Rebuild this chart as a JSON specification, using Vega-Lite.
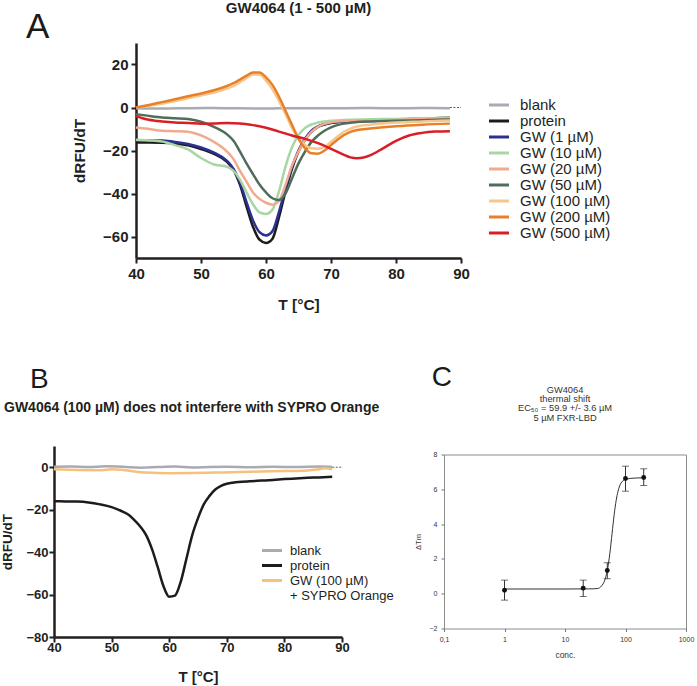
{
  "$schema": "https://vega.github.io/schema/vega-lite/v6.json",
  "background": "white",
  "padding": {"left": 0, "top": 1, "right": 5, "bottom": 2},
  "config": {
    "font": "Liberation Sans",
    "view": {"stroke": null},
    "axis": {"grid": false, "labelFlush": false, "labelOverlap": false},
    "legend": {"padding": 0}
  },
  "bounds": "flush",
  "spacing": 403,
  "resolve": {"scale": {"color": "independent"}, "legend": {"color": "independent"}},
  "datasets": {
    "A": [
      {"s":"blank","T":40,"v":-0.3},{"s":"blank","T":44,"v":-0.5},{"s":"blank","T":48,"v":-0.3},{"s":"blank","T":52,"v":-0.2},{"s":"blank","T":56,"v":-0.4},{"s":"blank","T":60,"v":-0.5},{"s":"blank","T":64,"v":-0.3},{"s":"blank","T":68,"v":-0.4},{"s":"blank","T":72,"v":-0.3},{"s":"blank","T":76,"v":-0.2},{"s":"blank","T":80,"v":-0.4},{"s":"blank","T":84,"v":-0.2},{"s":"blank","T":88.3,"v":-0.3},
      {"s":"protein","T":40,"v":-16.3},{"s":"protein","T":42,"v":-16.3},{"s":"protein","T":44,"v":-16.4},{"s":"protein","T":46,"v":-16.8},{"s":"protein","T":48,"v":-17.6},{"s":"protein","T":50,"v":-19.3},{"s":"protein","T":52,"v":-21.6},{"s":"protein","T":54,"v":-25.3},{"s":"protein","T":55,"v":-29},{"s":"protein","T":56,"v":-36},{"s":"protein","T":57,"v":-46},{"s":"protein","T":58,"v":-55.5},{"s":"protein","T":59,"v":-61.5},{"s":"protein","T":60,"v":-63},{"s":"protein","T":61,"v":-61},{"s":"protein","T":62,"v":-51},{"s":"protein","T":63,"v":-39},{"s":"protein","T":64,"v":-28.5},{"s":"protein","T":65,"v":-20.5},{"s":"protein","T":66,"v":-15},{"s":"protein","T":67,"v":-11.3},{"s":"protein","T":68,"v":-9},{"s":"protein","T":69,"v":-7.9},{"s":"protein","T":70,"v":-7.2},{"s":"protein","T":72,"v":-6.6},{"s":"protein","T":74,"v":-6.3},{"s":"protein","T":76,"v":-6.1},{"s":"protein","T":78,"v":-5.9},{"s":"protein","T":80,"v":-5.7},{"s":"protein","T":82,"v":-5.4},{"s":"protein","T":84,"v":-5.2},{"s":"protein","T":86,"v":-5},{"s":"protein","T":88.3,"v":-4.8},
      {"s":"GW (1 µM)","T":40,"v":-15.3},{"s":"GW (1 µM)","T":42,"v":-15.3},{"s":"GW (1 µM)","T":44,"v":-15.4},{"s":"GW (1 µM)","T":46,"v":-16},{"s":"GW (1 µM)","T":48,"v":-17},{"s":"GW (1 µM)","T":50,"v":-18.6},{"s":"GW (1 µM)","T":52,"v":-21},{"s":"GW (1 µM)","T":54,"v":-24.8},{"s":"GW (1 µM)","T":55,"v":-28.5},{"s":"GW (1 µM)","T":56,"v":-35},{"s":"GW (1 µM)","T":57,"v":-44},{"s":"GW (1 µM)","T":58,"v":-52.5},{"s":"GW (1 µM)","T":59,"v":-58},{"s":"GW (1 µM)","T":60,"v":-59.5},{"s":"GW (1 µM)","T":61,"v":-57.5},{"s":"GW (1 µM)","T":62,"v":-48.5},{"s":"GW (1 µM)","T":63,"v":-37.5},{"s":"GW (1 µM)","T":64,"v":-27.5},{"s":"GW (1 µM)","T":65,"v":-20},{"s":"GW (1 µM)","T":66,"v":-14.5},{"s":"GW (1 µM)","T":67,"v":-10.8},{"s":"GW (1 µM)","T":68,"v":-8.8},{"s":"GW (1 µM)","T":69,"v":-7.7},{"s":"GW (1 µM)","T":70,"v":-7.1},{"s":"GW (1 µM)","T":72,"v":-6.6},{"s":"GW (1 µM)","T":76,"v":-6.3},{"s":"GW (1 µM)","T":80,"v":-6},{"s":"GW (1 µM)","T":84,"v":-5.6},{"s":"GW (1 µM)","T":88.3,"v":-5.3},
      {"s":"GW (10 µM)","T":40,"v":-15},{"s":"GW (10 µM)","T":42,"v":-15.3},{"s":"GW (10 µM)","T":44,"v":-15.8},{"s":"GW (10 µM)","T":46,"v":-17.5},{"s":"GW (10 µM)","T":48,"v":-19.5},{"s":"GW (10 µM)","T":50,"v":-23.5},{"s":"GW (10 µM)","T":52,"v":-26.5},{"s":"GW (10 µM)","T":54,"v":-27.6},{"s":"GW (10 µM)","T":55,"v":-29.5},{"s":"GW (10 µM)","T":56,"v":-33.5},{"s":"GW (10 µM)","T":57,"v":-39.5},{"s":"GW (10 µM)","T":58,"v":-45},{"s":"GW (10 µM)","T":59,"v":-48.8},{"s":"GW (10 µM)","T":60,"v":-49.5},{"s":"GW (10 µM)","T":61,"v":-47.5},{"s":"GW (10 µM)","T":62,"v":-39},{"s":"GW (10 µM)","T":63,"v":-27.5},{"s":"GW (10 µM)","T":64,"v":-18.5},{"s":"GW (10 µM)","T":65,"v":-12.8},{"s":"GW (10 µM)","T":66,"v":-9.5},{"s":"GW (10 µM)","T":67,"v":-7.9},{"s":"GW (10 µM)","T":68,"v":-7},{"s":"GW (10 µM)","T":70,"v":-6.2},{"s":"GW (10 µM)","T":72,"v":-5.8},{"s":"GW (10 µM)","T":76,"v":-5.5},{"s":"GW (10 µM)","T":80,"v":-5.3},{"s":"GW (10 µM)","T":84,"v":-5},{"s":"GW (10 µM)","T":88.3,"v":-4.8},
      {"s":"GW (20 µM)","T":40,"v":-9.3},{"s":"GW (20 µM)","T":42,"v":-10},{"s":"GW (20 µM)","T":44,"v":-10.8},{"s":"GW (20 µM)","T":46,"v":-11},{"s":"GW (20 µM)","T":48,"v":-11.3},{"s":"GW (20 µM)","T":50,"v":-13},{"s":"GW (20 µM)","T":52,"v":-16},{"s":"GW (20 µM)","T":54,"v":-20.5},{"s":"GW (20 µM)","T":55,"v":-24},{"s":"GW (20 µM)","T":56,"v":-29.5},{"s":"GW (20 µM)","T":57,"v":-34.5},{"s":"GW (20 µM)","T":58,"v":-39.5},{"s":"GW (20 µM)","T":59,"v":-42.5},{"s":"GW (20 µM)","T":60,"v":-44.3},{"s":"GW (20 µM)","T":61,"v":-45.2},{"s":"GW (20 µM)","T":62,"v":-43.5},{"s":"GW (20 µM)","T":63,"v":-36},{"s":"GW (20 µM)","T":64,"v":-27},{"s":"GW (20 µM)","T":65,"v":-20.5},{"s":"GW (20 µM)","T":66,"v":-15},{"s":"GW (20 µM)","T":67,"v":-11.3},{"s":"GW (20 µM)","T":68,"v":-9},{"s":"GW (20 µM)","T":69,"v":-7.6},{"s":"GW (20 µM)","T":70,"v":-6.9},{"s":"GW (20 µM)","T":72,"v":-6.3},{"s":"GW (20 µM)","T":76,"v":-6},{"s":"GW (20 µM)","T":80,"v":-5.8},{"s":"GW (20 µM)","T":84,"v":-5.4},{"s":"GW (20 µM)","T":88.3,"v":-5},
      {"s":"GW (50 µM)","T":40,"v":-3.1},{"s":"GW (50 µM)","T":42,"v":-3.9},{"s":"GW (50 µM)","T":44,"v":-4.6},{"s":"GW (50 µM)","T":46,"v":-5},{"s":"GW (50 µM)","T":48,"v":-5.4},{"s":"GW (50 µM)","T":50,"v":-6.6},{"s":"GW (50 µM)","T":52,"v":-9},{"s":"GW (50 µM)","T":54,"v":-12.5},{"s":"GW (50 µM)","T":55,"v":-15.5},{"s":"GW (50 µM)","T":56,"v":-20.5},{"s":"GW (50 µM)","T":57,"v":-26},{"s":"GW (50 µM)","T":58,"v":-31},{"s":"GW (50 µM)","T":59,"v":-35.8},{"s":"GW (50 µM)","T":60,"v":-39.5},{"s":"GW (50 µM)","T":61,"v":-42.2},{"s":"GW (50 µM)","T":62,"v":-43},{"s":"GW (50 µM)","T":63,"v":-40},{"s":"GW (50 µM)","T":64,"v":-33},{"s":"GW (50 µM)","T":65,"v":-26},{"s":"GW (50 µM)","T":66,"v":-20.5},{"s":"GW (50 µM)","T":67,"v":-16},{"s":"GW (50 µM)","T":68,"v":-13},{"s":"GW (50 µM)","T":69,"v":-10.8},{"s":"GW (50 µM)","T":70,"v":-9.2},{"s":"GW (50 µM)","T":72,"v":-7.5},{"s":"GW (50 µM)","T":74,"v":-6.8},{"s":"GW (50 µM)","T":76,"v":-6.5},{"s":"GW (50 µM)","T":80,"v":-6.2},{"s":"GW (50 µM)","T":84,"v":-5.9},{"s":"GW (50 µM)","T":88.3,"v":-5.6},
      {"s":"GW (100 µM)","T":40,"v":0},{"s":"GW (100 µM)","T":42,"v":0.8},{"s":"GW (100 µM)","T":44,"v":1.8},{"s":"GW (100 µM)","T":46,"v":3},{"s":"GW (100 µM)","T":48,"v":4.3},{"s":"GW (100 µM)","T":50,"v":5.6},{"s":"GW (100 µM)","T":52,"v":7},{"s":"GW (100 µM)","T":54,"v":8.8},{"s":"GW (100 µM)","T":55,"v":10},{"s":"GW (100 µM)","T":56,"v":11.8},{"s":"GW (100 µM)","T":57,"v":13.7},{"s":"GW (100 µM)","T":58,"v":15.3},{"s":"GW (100 µM)","T":59,"v":15.2},{"s":"GW (100 µM)","T":60,"v":12.5},{"s":"GW (100 µM)","T":61,"v":8.5},{"s":"GW (100 µM)","T":62,"v":3},{"s":"GW (100 µM)","T":63,"v":-3},{"s":"GW (100 µM)","T":64,"v":-9.5},{"s":"GW (100 µM)","T":65,"v":-14.5},{"s":"GW (100 µM)","T":66,"v":-17.5},{"s":"GW (100 µM)","T":67,"v":-19},{"s":"GW (100 µM)","T":68,"v":-19.2},{"s":"GW (100 µM)","T":69,"v":-18.3},{"s":"GW (100 µM)","T":70,"v":-16},{"s":"GW (100 µM)","T":71,"v":-13.5},{"s":"GW (100 µM)","T":72,"v":-11.3},{"s":"GW (100 µM)","T":73,"v":-9.8},{"s":"GW (100 µM)","T":74,"v":-8.8},{"s":"GW (100 µM)","T":76,"v":-8},{"s":"GW (100 µM)","T":78,"v":-7.4},{"s":"GW (100 µM)","T":80,"v":-7},{"s":"GW (100 µM)","T":84,"v":-6.5},{"s":"GW (100 µM)","T":88.3,"v":-6},
      {"s":"GW (200 µM)","T":40,"v":0},{"s":"GW (200 µM)","T":42,"v":1.2},{"s":"GW (200 µM)","T":44,"v":2.5},{"s":"GW (200 µM)","T":46,"v":3.8},{"s":"GW (200 µM)","T":48,"v":5.2},{"s":"GW (200 µM)","T":50,"v":6.5},{"s":"GW (200 µM)","T":52,"v":8},{"s":"GW (200 µM)","T":54,"v":10},{"s":"GW (200 µM)","T":55,"v":11.3},{"s":"GW (200 µM)","T":56,"v":13},{"s":"GW (200 µM)","T":57,"v":14.8},{"s":"GW (200 µM)","T":58,"v":16.3},{"s":"GW (200 µM)","T":59,"v":16.3},{"s":"GW (200 µM)","T":60,"v":14},{"s":"GW (200 µM)","T":61,"v":10.5},{"s":"GW (200 µM)","T":62,"v":5},{"s":"GW (200 µM)","T":63,"v":-1.5},{"s":"GW (200 µM)","T":64,"v":-8},{"s":"GW (200 µM)","T":65,"v":-14.5},{"s":"GW (200 µM)","T":66,"v":-19},{"s":"GW (200 µM)","T":67,"v":-21.3},{"s":"GW (200 µM)","T":68,"v":-21.5},{"s":"GW (200 µM)","T":69,"v":-20},{"s":"GW (200 µM)","T":70,"v":-17.5},{"s":"GW (200 µM)","T":71,"v":-15},{"s":"GW (200 µM)","T":72,"v":-12.8},{"s":"GW (200 µM)","T":73,"v":-11.3},{"s":"GW (200 µM)","T":74,"v":-10.5},{"s":"GW (200 µM)","T":76,"v":-9.8},{"s":"GW (200 µM)","T":78,"v":-9.2},{"s":"GW (200 µM)","T":80,"v":-8.7},{"s":"GW (200 µM)","T":84,"v":-8},{"s":"GW (200 µM)","T":88.3,"v":-7.5},
      {"s":"GW (500 µM)","T":40,"v":-3.9},{"s":"GW (500 µM)","T":41,"v":-5},{"s":"GW (500 µM)","T":42,"v":-5.7},{"s":"GW (500 µM)","T":44,"v":-6.5},{"s":"GW (500 µM)","T":46,"v":-7},{"s":"GW (500 µM)","T":48,"v":-7.2},{"s":"GW (500 µM)","T":50,"v":-7.5},{"s":"GW (500 µM)","T":52,"v":-7.4},{"s":"GW (500 µM)","T":54,"v":-7.2},{"s":"GW (500 µM)","T":56,"v":-7.4},{"s":"GW (500 µM)","T":58,"v":-8.2},{"s":"GW (500 µM)","T":60,"v":-9.4},{"s":"GW (500 µM)","T":62,"v":-11.2},{"s":"GW (500 µM)","T":64,"v":-13},{"s":"GW (500 µM)","T":66,"v":-14.6},{"s":"GW (500 µM)","T":68,"v":-16.6},{"s":"GW (500 µM)","T":70,"v":-19.2},{"s":"GW (500 µM)","T":72,"v":-22},{"s":"GW (500 µM)","T":73,"v":-23.2},{"s":"GW (500 µM)","T":74,"v":-23.6},{"s":"GW (500 µM)","T":75,"v":-23.3},{"s":"GW (500 µM)","T":76,"v":-22.3},{"s":"GW (500 µM)","T":78,"v":-19},{"s":"GW (500 µM)","T":80,"v":-15.5},{"s":"GW (500 µM)","T":82,"v":-13},{"s":"GW (500 µM)","T":84,"v":-11.8},{"s":"GW (500 µM)","T":86,"v":-11.2},{"s":"GW (500 µM)","T":88.3,"v":-11}
    ],
    "B": [
      {"s":"blank","T":40,"v":0.2},{"s":"blank","T":43,"v":0.3},{"s":"blank","T":46,"v":0.1},{"s":"blank","T":49,"v":0.4},{"s":"blank","T":52,"v":0.2},{"s":"blank","T":55,"v":-0.2},{"s":"blank","T":58,"v":0.1},{"s":"blank","T":61,"v":0.3},{"s":"blank","T":64,"v":-0.1},{"s":"blank","T":67,"v":0.1},{"s":"blank","T":70,"v":0.2},{"s":"blank","T":74,"v":0},{"s":"blank","T":78,"v":0.2},{"s":"blank","T":82,"v":0.1},{"s":"blank","T":86,"v":0.3},{"s":"blank","T":88.3,"v":0.1},
      {"s":"protein","T":40,"v":-16},{"s":"protein","T":42,"v":-16.1},{"s":"protein","T":44,"v":-16.2},{"s":"protein","T":46,"v":-16.6},{"s":"protein","T":48,"v":-17.5},{"s":"protein","T":50,"v":-18.8},{"s":"protein","T":52,"v":-21},{"s":"protein","T":53,"v":-22.5},{"s":"protein","T":54,"v":-25},{"s":"protein","T":55,"v":-28},{"s":"protein","T":56,"v":-32},{"s":"protein","T":57,"v":-38.5},{"s":"protein","T":58,"v":-47},{"s":"protein","T":59,"v":-56},{"s":"protein","T":60,"v":-61},{"s":"protein","T":61,"v":-60.5},{"s":"protein","T":62,"v":-54},{"s":"protein","T":63,"v":-43},{"s":"protein","T":64,"v":-32},{"s":"protein","T":65,"v":-24},{"s":"protein","T":66,"v":-17.5},{"s":"protein","T":67,"v":-13.5},{"s":"protein","T":68,"v":-10.5},{"s":"protein","T":69,"v":-8.8},{"s":"protein","T":70,"v":-7.8},{"s":"protein","T":72,"v":-7},{"s":"protein","T":74,"v":-6.6},{"s":"protein","T":76,"v":-6.3},{"s":"protein","T":78,"v":-6},{"s":"protein","T":80,"v":-5.6},{"s":"protein","T":82,"v":-5.3},{"s":"protein","T":84,"v":-5},{"s":"protein","T":86,"v":-4.8},{"s":"protein","T":88.3,"v":-4.5},
      {"s":"GW (100 µM) + SYPRO Orange","T":40,"v":-1},{"s":"GW (100 µM) + SYPRO Orange","T":44,"v":-1.3},{"s":"GW (100 µM) + SYPRO Orange","T":48,"v":-1.4},{"s":"GW (100 µM) + SYPRO Orange","T":50,"v":-0.9},{"s":"GW (100 µM) + SYPRO Orange","T":52,"v":-1.3},{"s":"GW (100 µM) + SYPRO Orange","T":54,"v":-2},{"s":"GW (100 µM) + SYPRO Orange","T":56,"v":-2.5},{"s":"GW (100 µM) + SYPRO Orange","T":60,"v":-2.8},{"s":"GW (100 µM) + SYPRO Orange","T":64,"v":-2.7},{"s":"GW (100 µM) + SYPRO Orange","T":68,"v":-2.5},{"s":"GW (100 µM) + SYPRO Orange","T":72,"v":-2.3},{"s":"GW (100 µM) + SYPRO Orange","T":76,"v":-2},{"s":"GW (100 µM) + SYPRO Orange","T":80,"v":-1.8},{"s":"GW (100 µM) + SYPRO Orange","T":84,"v":-1.5},{"s":"GW (100 µM) + SYPRO Orange","T":86,"v":-1},{"s":"GW (100 µM) + SYPRO Orange","T":87,"v":-0.5},{"s":"GW (100 µM) + SYPRO Orange","T":88.3,"v":-1}
    ],
    "Cpts": [
      {"conc":1,"dtm":0.2,"lo":-0.37,"hi":0.78},
      {"conc":20,"dtm":0.32,"lo":-0.16,"hi":0.78},
      {"conc":50,"dtm":1.33,"lo":0.86,"hi":1.78},
      {"conc":100,"dtm":6.62,"lo":5.89,"hi":7.33},
      {"conc":200,"dtm":6.68,"lo":6.22,"hi":7.18}
    ],
    "Cfit": [
      {"conc":1,"dtm":0.27},{"conc":10,"dtm":0.27},{"conc":30,"dtm":0.28},{"conc":35,"dtm":0.3},{"conc":40,"dtm":0.44},{"conc":45,"dtm":0.74},{"conc":50,"dtm":1.33},{"conc":55,"dtm":2.29},{"conc":60,"dtm":3.46},{"conc":65,"dtm":4.55},{"conc":70,"dtm":5.35},{"conc":75,"dtm":5.87},{"conc":80,"dtm":6.19},{"conc":90,"dtm":6.48},{"conc":100,"dtm":6.58},{"conc":150,"dtm":6.65},{"conc":200,"dtm":6.66}
    ]
  },
  "vconcat": [
    {
      "bounds": "flush",
      "spacing": 0,
      "hconcat": [
        {"width": 110, "height": 215, "data": {"values": []}, "mark": "point",
         "title": {"text": "A", "fontSize": 35, "fontWeight": "normal", "color": "#1a1a1a", "anchor": "start", "frame": "group", "dx": 0, "offset": -2.4}},
        {
          "width": 325,
          "height": 215,
          "title": {"text": "GW4064 (1 - 500 µM)", "fontSize": 15, "fontWeight": "bold", "color": "#231f20", "anchor": "middle", "offset": 27},
          "layer": [
            {
              "data": {"name": "A"},
              "mark": {"type": "line", "strokeWidth": 2.5, "interpolate": "monotone"},
              "encoding": {
                "x": {"field": "T", "type": "quantitative", "scale": {"domain": [40, 90], "nice": false, "zero": false},
                  "axis": {"title": "T [°C]", "values": [40, 50, 60, 70, 80, 90], "format": "d", "domainColor": "#231f20", "domainWidth": 2.5, "tickColor": "#231f20", "tickWidth": 2, "tickSize": 5, "labelFontSize": 15, "labelFontWeight": "bold", "labelColor": "#231f20", "labelPadding": 3, "titleFontSize": 15.5, "titleFontWeight": "bold", "titleColor": "#231f20", "titlePadding": 16}},
                "y": {"field": "v", "type": "quantitative", "scale": {"domain": [-70, 30], "nice": false, "zero": false},
                  "axis": {"title": "dRFU/dT", "values": [-60, -40, -20, 0, 20], "format": "d", "domainColor": "#231f20", "domainWidth": 2.5, "tickColor": "#231f20", "tickWidth": 2, "tickSize": 5, "labelFontSize": 15, "labelFontWeight": "bold", "labelColor": "#231f20", "labelPadding": 3, "titleFontSize": 15.5, "titleFontWeight": "bold", "titleColor": "#231f20", "titlePadding": 15.5}},
                "color": {"field": "s", "type": "nominal",
                  "scale": {"domain": ["blank", "protein", "GW (1 µM)", "GW (10 µM)", "GW (20 µM)", "GW (50 µM)", "GW (100 µM)", "GW (200 µM)", "GW (500 µM)"],
                            "range": ["#a9aab4", "#1c1c1c", "#2b3092", "#a8d6a4", "#f2aa8e", "#4f6d5a", "#f6c68b", "#e8802a", "#d81f26"]},
                  "legend": {"title": null, "orient": "none", "legendX": 465.5, "legendY": 54.5, "symbolType": "M-1.667,0H1.667", "symbolSize": 144, "symbolStrokeWidth": 3, "labelFontSize": 15, "labelColor": "#231f20", "labelOffset": 13.5, "rowPadding": -0.9, "labelLimit": 300}}
              }
            },
            {
              "data": {"values": [{"k": "baseline"}]},
              "mark": {"type": "rule", "strokeDash": [2, 1.5], "strokeWidth": 0.8, "color": "#333333"},
              "encoding": {"x": {"datum": 88.3, "type": "quantitative"}, "x2": {"datum": 90}, "y": {"datum": 0, "type": "quantitative"}}
            }
          ]
        }
      ]
    },
    {
      "bounds": "flush",
      "spacing": 0,
      "center": true,
      "hconcat": [
        {"width": 28, "height": 191, "data": {"values": []}, "mark": "point",
         "title": {"text": "B", "fontSize": 28, "fontWeight": "normal", "color": "#1a1a1a", "anchor": "start", "frame": "group", "dx": 4, "offset": 52}},
        {
          "width": 288,
          "height": 191,
          "title": {"text": "GW4064 (100 µM) does not interfere with SYPRO Orange", "fontSize": 14, "fontWeight": "bold", "color": "#231f20", "anchor": "start", "frame": "group", "dx": -50, "offset": 31},
          "layer": [
            {
              "data": {"name": "B"},
              "mark": {"type": "line", "strokeWidth": 2.5, "interpolate": "monotone"},
              "encoding": {
                "x": {"field": "T", "type": "quantitative", "scale": {"domain": [40, 90], "nice": false, "zero": false},
                  "axis": {"title": "T [°C]", "values": [40, 50, 60, 70, 80, 90], "format": "d", "domainColor": "#231f20", "domainWidth": 2.5, "tickColor": "#231f20", "tickWidth": 2, "tickSize": 5, "labelFontSize": 13, "labelFontWeight": "bold", "labelColor": "#231f20", "labelPadding": -1, "titleFontSize": 15, "titleFontWeight": "bold", "titleColor": "#231f20", "titlePadding": 15}},
                "y": {"field": "v", "type": "quantitative", "scale": {"domain": [-80, 10], "nice": false, "zero": false},
                  "axis": {"title": "dRFU/dT", "values": [-80, -60, -40, -20, 0], "format": "d", "domainColor": "#231f20", "domainWidth": 2.5, "tickColor": "#231f20", "tickWidth": 2, "tickSize": 5, "labelFontSize": 13, "labelFontWeight": "bold", "labelColor": "#231f20", "labelPadding": 1, "titleFontSize": 13.5, "titleFontWeight": "bold", "titleColor": "#231f20", "titlePadding": 11.5}},
                "color": {"field": "s", "type": "nominal",
                  "scale": {"domain": ["blank", "protein", "GW (100 µM) + SYPRO Orange"], "range": ["#a9aab4", "#1c1c1c", "#f5c27c"]},
                  "legend": {"title": null, "orient": "none", "legendX": 237, "legendY": 100, "symbolType": "M-1.333,-0.6H1.333", "symbolSize": 225, "symbolStrokeWidth": 3, "labelFontSize": 13, "labelColor": "#231f20", "labelOffset": 9, "labelBaseline": "alphabetic", "rowPadding": 1, "labelLimit": 300,
                    "labelExpr": "datum.label == 'GW (100 µM) + SYPRO Orange' ? ['GW (100 µM)', '+ SYPRO Orange'] : datum.label"}}
              }
            },
            {
              "data": {"values": [{"k": "baseline"}]},
              "mark": {"type": "rule", "strokeDash": [2, 1.5], "strokeWidth": 0.8, "color": "#333333"},
              "encoding": {"x": {"datum": 88.3, "type": "quantitative"}, "x2": {"datum": 90}, "y": {"datum": 0, "type": "quantitative"}}
            }
          ]
        },
        {"width": 102, "height": 191, "data": {"values": []}, "mark": "point",
         "title": {"text": "C", "fontSize": 28, "fontWeight": "normal", "color": "#1a1a1a", "anchor": "end", "frame": "group", "dx": 8, "offset": 54}},
        {
          "width": 242,
          "height": 174,
          "view": {"stroke": "#8c8c8c", "strokeWidth": 1},
          "title": {"text": ["GW4064", "thermal shift", "EC₅₀ = 59.9 +/- 3.6 µM", "5 µM FXR-LBD"], "fontSize": 9.3, "fontWeight": "normal", "color": "#333333", "lineHeight": 9.4, "anchor": "middle", "offset": 27.5},
          "layer": [
            {
              "data": {"name": "Cfit"},
              "mark": {"type": "line", "strokeWidth": 1, "color": "#333333", "interpolate": "monotone"},
              "encoding": {
                "x": {"field": "conc", "type": "quantitative", "title": "conc.", "scale": {"type": "log", "domain": [0.1, 1000], "nice": false},
                  "axis": {"title": "conc.", "values": [0.1, 1, 10, 100, 1000], "labelExpr": "datum.value < 1 ? '0,1' : format(datum.value, 'd')", "labelOverlap": false, "domain": false, "tickColor": "#777777", "tickSize": 3, "labelFontSize": 7, "labelColor": "#333333", "labelPadding": 4, "titleFontSize": 8.4, "titleFontWeight": "normal", "titleColor": "#333333", "titlePadding": 8}},
                "y": {"field": "dtm", "type": "quantitative", "title": "ΔTm", "scale": {"domain": [-2, 8], "nice": false, "zero": false},
                  "axis": {"title": "ΔTm", "values": [-2, 0, 2, 4, 6, 8], "format": "d", "labelOverlap": false, "labelBound": false, "domain": false, "tickColor": "#777777", "tickSize": 3, "labelFontSize": 7, "labelColor": "#333333", "labelPadding": 4, "titleFontSize": 7.5, "titleFontWeight": "normal", "titleColor": "#333333", "titlePadding": 7}}
              }
            },
            {
              "data": {"name": "Cpts"},
              "mark": {"type": "errorbar", "ticks": {"size": 7, "color": "#333333"}, "color": "#333333", "thickness": 1},
              "encoding": {
                "x": {"field": "conc", "type": "quantitative", "title": "conc.",
                  "axis": {"title": "conc.", "values": [0.1, 1, 10, 100, 1000], "labelExpr": "datum.value < 1 ? '0,1' : format(datum.value, 'd')", "labelOverlap": false, "domain": false, "tickColor": "#777777", "tickSize": 3, "labelFontSize": 7, "labelColor": "#333333", "labelPadding": 4, "titleFontSize": 8.4, "titleFontWeight": "normal", "titleColor": "#333333", "titlePadding": 8}},
                "y": {"field": "lo", "type": "quantitative", "title": "ΔTm",
                  "axis": {"title": "ΔTm", "values": [-2, 0, 2, 4, 6, 8], "format": "d", "labelOverlap": false, "labelBound": false, "domain": false, "tickColor": "#777777", "tickSize": 3, "labelFontSize": 7, "labelColor": "#333333", "labelPadding": 4, "titleFontSize": 7.5, "titleFontWeight": "normal", "titleColor": "#333333", "titlePadding": 7}},
                "y2": {"field": "hi"}
              }
            },
            {
              "data": {"name": "Cpts"},
              "mark": {"type": "circle", "size": 24, "color": "#111111", "opacity": 1},
              "encoding": {
                "x": {"field": "conc", "type": "quantitative", "title": "conc.",
                  "axis": {"title": "conc.", "values": [0.1, 1, 10, 100, 1000], "labelExpr": "datum.value < 1 ? '0,1' : format(datum.value, 'd')", "labelOverlap": false, "domain": false, "tickColor": "#777777", "tickSize": 3, "labelFontSize": 7, "labelColor": "#333333", "labelPadding": 4, "titleFontSize": 8.4, "titleFontWeight": "normal", "titleColor": "#333333", "titlePadding": 8}},
                "y": {"field": "dtm", "type": "quantitative", "title": "ΔTm",
                  "axis": {"title": "ΔTm", "values": [-2, 0, 2, 4, 6, 8], "format": "d", "labelOverlap": false, "labelBound": false, "domain": false, "tickColor": "#777777", "tickSize": 3, "labelFontSize": 7, "labelColor": "#333333", "labelPadding": 4, "titleFontSize": 7.5, "titleFontWeight": "normal", "titleColor": "#333333", "titlePadding": 7}}
              }
            }
          ]
        }
      ]
    }
  ]
}
